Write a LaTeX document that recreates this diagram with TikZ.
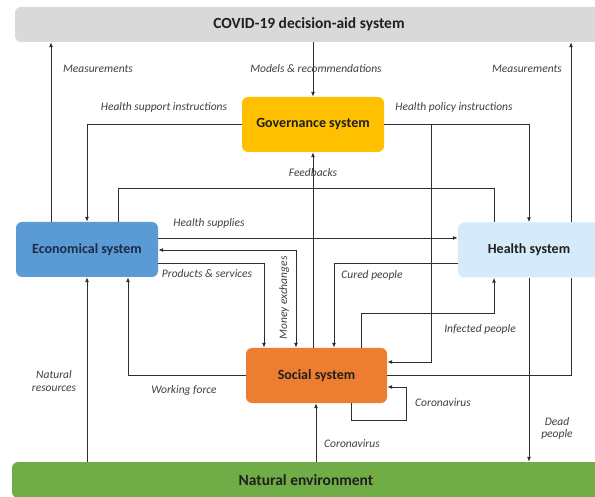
\documentclass[tikz,border=0pt]{standalone}
\usepackage{fontspec}
\setmainfont{Carlito}
\usetikzlibrary{arrows.meta}
\definecolor{topgray}{HTML}{D9D9D9}
\definecolor{govc}{HTML}{FFC000}
\definecolor{econc}{HTML}{5B9BD5}
\definecolor{healthc}{HTML}{D6EBFA}
\definecolor{socialc}{HTML}{ED7D31}
\definecolor{natc}{HTML}{70AD47}
\definecolor{linec}{HTML}{2E2E2E}
\definecolor{lblc}{HTML}{404040}
\definecolor{navy}{HTML}{1B2A47}
\begin{document}
\begin{tikzpicture}[x=1pt,y=-1pt,
  sysbox/.style={draw=none, rounded corners=6pt, inner sep=0pt, align=center,
    font=\fontsize{14}{16}\selectfont\bfseries, text=black!88},
  bigbox/.style={sysbox, font=\fontsize{15.5}{18}\selectfont\bfseries},
  lbl/.style={font=\fontsize{11.5}{12.5}\selectfont\itshape, text=lblc, inner sep=0pt, align=center},
  conn/.style={draw=linec, line width=0.9pt},
  arr/.style={conn, -{Latex[length=5pt,width=4pt]}},
  darr/.style={conn, {Latex[length=5pt,width=4pt]}-{Latex[length=5pt,width=4pt]}}]
\clip (0,0) rectangle (595,497);
\fill[white] (0,0) rectangle (595,497);
% boxes
\node[bigbox, fill=topgray, minimum width=588pt, minimum height=35pt] (top) at (309,24.5) {COVID-19 decision-aid system};
\node[bigbox, fill=natc, minimum width=588pt, minimum height=36pt] (nat) at (306,480) {Natural environment};
\node[sysbox, fill=govc, minimum width=142pt, minimum height=55pt] (gov) at (313,124.5) {Governance system};
\node[sysbox, fill=econc, minimum width=142pt, minimum height=55pt, text=navy] (econ) at (87,249.5) {Economical system};
\node[sysbox, fill=healthc, minimum width=142pt, minimum height=55pt] (health) at (529,250) {Health system};
\node[sysbox, fill=socialc, minimum width=141pt, minimum height=55pt] (social) at (316.5,375.5) {Social system};
% connectors
\draw[arr] (51,0 |- econ.north) -- (51,0 |- top.south);
\draw[arr] (313,0 |- top.south) -- (313,0 |- gov.north);
\draw[arr] (571,0 |- health.north) -- (571,0 |- top.south);
\draw[conn] (social.east) -| (571,0 |- health.south);
\draw[arr] (gov.west) -| (87,0 |- econ.north);
\draw[arr] (gov.east) -| (529,0 |- health.north);
\draw[arr] (431,0 |- gov.east) -- (431,362) -- (social.east |- 0,362);
\draw[conn] (118,0 |- econ.north) -- (118,188) -- (494,188) -- (494,0 |- health.north);
\draw[arr] (econ.east |- 0,238) -- (health.west |- 0,238);
\draw[darr] (econ.east |- 0,250) -- (296,250) -- (296,0 |- social.north);
\draw[arr] (econ.east |- 0,263) -| (264,0 |- social.north);
\draw[arr] (313,0 |- social.north) -- (313,0 |- gov.south);
\draw[arr] (health.west |- 0,263) -| (334,0 |- social.north);
\draw[arr] (361,0 |- social.north) -- (361,313) -| (494,0 |- health.south);
\draw[arr] (351,0 |- social.south) -- (351,420) -- (406,420) -- (406,387) -- (social.east |- 0,387);
\draw[arr] (316,0 |- nat.north) -- (316,0 |- social.south);
\draw[arr] (529,0 |- health.south) -- (529,0 |- nat.north);
\draw[arr] (87,0 |- nat.north) -- (87,0 |- econ.south);
\draw[arr] (social.west) -| (128,0 |- econ.south);
% labels
\node[lbl] (l1) at (98,69) {Measurements};
\node[lbl] (l2) at (316,69) {Models \& recommendations};
\node[lbl] (l3) at (527,69) {Measurements};
\node[lbl] (l4) at (164,107) {Health support instructions};
\node[lbl] (l5) at (454,107) {Health policy instructions};
\node[lbl] (l6) at (313,173) {Feedbacks};
\node[lbl] (l7) at (209,223) {Health supplies};
\node[lbl] (l8) at (207,274) {Products \& services};
\node[lbl, rotate=90] (l9) at (284,298) {Money exchanges};
\node[lbl] (l10) at (372,275) {Cured people};
\node[lbl] (l11) at (480,329) {Infected people};
\node[lbl] (l12) at (54,381) {Natural\\resources};
\node[lbl] (l13) at (184,390) {Working force};
\node[lbl] (l14) at (443,403) {Coronavirus};
\node[lbl] (l15) at (352,444) {Coronavirus};
\node[lbl] (l16) at (557,428.5) {Dead\\people};
\end{tikzpicture}
\end{document}
